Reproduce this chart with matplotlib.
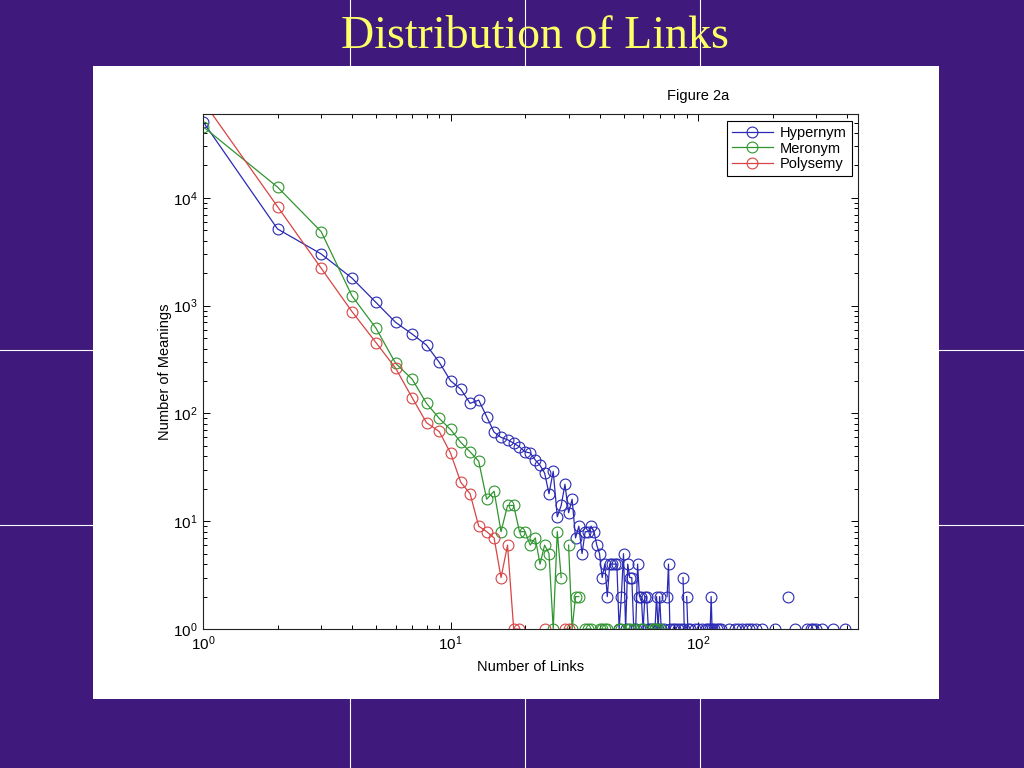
import numpy as np
import matplotlib
matplotlib.use("Agg")
import matplotlib.pyplot as plt
from matplotlib.lines import Line2D
from matplotlib.patches import Rectangle
from matplotlib.ticker import LogLocator, LogFormatterMathtext, NullFormatter

plt.rcParams['font.family'] = ['Liberation Sans', 'DejaVu Sans']
plt.rcParams['mathtext.fontset'] = 'custom'
plt.rcParams['mathtext.rm'] = 'Liberation Sans'
plt.rcParams['mathtext.it'] = 'Liberation Sans:italic'
plt.rcParams['mathtext.bf'] = 'Liberation Sans:bold'

# ---------------- data ----------------
title = "Distribution of Links"
fig_label = "Figure 2a"
x_label = "Number of Links"
y_label = "Number of Meanings"
series_names = ["Hypernym", "Meronym", "Polysemy"]

hyp_links = [1, 2, 3, 4, 5, 6, 7, 8, 9, 10, 11, 12, 13, 14, 15, 16, 17, 18, 19, 20,
             21, 22, 23, 24, 25, 26, 27, 28, 29, 30, 31, 32, 33, 34, 35, 36, 37, 38, 39, 40,
             41, 42, 43, 44, 45, 46, 47, 48, 49, 50, 51, 52, 53, 54, 55, 56, 57, 58, 59, 60,
             61, 62, 63, 64, 65, 67, 68, 69, 70, 71, 73, 75, 76, 77, 79, 81, 83, 85, 87, 88,
             90, 91, 93, 97, 100, 104, 108, 110, 112, 113, 114, 116, 119, 122, 124, 134, 141,
             145, 150, 156, 160, 166, 172, 181, 204, 232, 247, 276, 285, 292, 300, 317, 351, 392]
hyp_counts = [51000, 5150, 3020, 1800, 1070, 700, 545, 430, 299, 201, 168, 124, 133, 93, 67,
              60, 57, 53, 49, 44, 43, 37, 33, 28, 18, 29, 11, 14, 22, 12, 16, 7, 9, 5, 8, 8, 9,
              8, 6, 5, 3, 4, 2, 4, 4, 4, 4, 1, 2, 5, 1, 4, 3, 3, 1, 1, 4, 2, 2, 1,
              2, 2, 1, 1, 1, 1, 2, 1, 2, 1, 1, 2, 4, 1, 1, 1, 1, 1, 3, 1,
              2, 1, 1, 1, 1, 1, 1, 1, 1, 2, 1, 1, 1, 1, 1, 1, 1,
              1, 1, 1, 1, 1, 1, 1, 1, 2, 1, 1, 1, 1, 1, 1, 1, 1]

mer_links = [1, 2, 3, 4, 5, 6, 7, 8, 9, 10, 11, 12, 13, 14, 15, 16, 17, 18, 19, 20,
             21, 22, 23, 24, 25, 26, 27, 28, 30, 31, 32, 33, 35, 36, 37, 40, 41, 42, 43,
             48, 49, 52, 53, 55, 59, 60, 66, 67, 68, 70]
mer_counts = [45900, 12600, 4870, 1230, 618, 292, 208, 124, 90, 71, 54, 44, 36, 16, 19, 8,
              14, 14, 8, 8, 6, 7, 4, 6, 5, 1, 8, 3, 6, 1, 2, 2, 1, 1, 1, 1, 1, 1, 1,
              1, 1, 1, 1, 1, 1, 1, 1, 1, 1, 1]

pol_links = [1, 2, 3, 4, 5, 6, 7, 8, 9, 10, 11, 12, 13, 14, 15, 16, 17, 18, 19, 24, 29, 30]
pol_counts = [79000, 8300, 2230, 880, 454, 263, 140, 82, 68, 43, 23, 18, 9, 8, 7, 3, 6,
              1, 1, 1, 1, 1]

colors = ["#2a2ab4", "#2f962f", "#d94444"]
x_limits = (1, 443)
y_limits = (1, 6.0e4)


def with_gaps(xs, ys):
    """Insert NaN where link counts are missing (zero counts), so lines break."""
    ox, oy = [], []
    for i, (a, b) in enumerate(zip(xs, ys)):
        if i > 0 and a - xs[i - 1] > 1:
            ox.append(np.nan)
            oy.append(np.nan)
        ox.append(a)
        oy.append(b)
    return np.array(ox, float), np.array(oy, float)


# ---------------- figure ----------------
fig = plt.figure(figsize=(10.24, 7.68), dpi=100)
fig.patch.set_facecolor("#40197d")

# slide guide lines
for xp in (350, 525, 700):
    fig.add_artist(Line2D([xp / 1024, xp / 1024], [0, 1], color="white", lw=0.8,
                          transform=fig.transFigure, zorder=0))
for yp in (350, 525):
    fig.add_artist(Line2D([0, 1], [1 - yp / 768, 1 - yp / 768], color="white", lw=0.8,
                          transform=fig.transFigure, zorder=0))

# white figure panel
fig.add_artist(Rectangle((93 / 1024, 1 - 699 / 768), 846 / 1024, 633 / 768,
                         transform=fig.transFigure, facecolor="white",
                         edgecolor="none", zorder=1))

fig.text(535 / 1024, 1 - 37 / 768, title, ha="center", va="center",
         color="#ffff66", fontsize=33, family=["Liberation Serif", "DejaVu Serif"])

fig.text(698 / 1024, 1 - 96 / 768, fig_label, ha="center", va="center",
         color="black", fontsize=10.5, zorder=3)

ax = fig.add_axes([203 / 1024, 1 - 629 / 768, 655 / 1024, 515 / 768], zorder=2)
ax.set_facecolor("white")
ax.set_xscale("log")
ax.set_yscale("log")

for xs, ys, c, name in zip([hyp_links, mer_links, pol_links],
                           [hyp_counts, mer_counts, pol_counts],
                           colors, series_names):
    gx, gy = with_gaps(xs, ys)
    ax.plot(gx, gy, color=c, lw=0.9, marker="o", markersize=7.8,
            markerfacecolor="none", markeredgecolor=c, markeredgewidth=0.8,
            label=name)

ax.set_xlim(*x_limits)
ax.set_ylim(*y_limits)

ax.xaxis.set_major_locator(LogLocator(base=10, numticks=10))
ax.yaxis.set_major_locator(LogLocator(base=10, numticks=10))
ax.xaxis.set_minor_locator(LogLocator(base=10, subs=np.arange(2, 10), numticks=20))
ax.yaxis.set_minor_locator(LogLocator(base=10, subs=np.arange(2, 10), numticks=20))
ax.xaxis.set_major_formatter(LogFormatterMathtext())
ax.yaxis.set_major_formatter(LogFormatterMathtext())
ax.xaxis.set_minor_formatter(NullFormatter())
ax.yaxis.set_minor_formatter(NullFormatter())

ax.tick_params(which="both", direction="in", top=True, right=True,
               labelsize=11, colors="black", width=0.7)
ax.tick_params(which="major", length=5, pad=4)
ax.tick_params(which="minor", length=3)
for s in ax.spines.values():
    s.set_linewidth(0.8)
    s.set_color("#222222")

ax.set_xlabel(x_label, fontsize=10.5, labelpad=5)
ax.set_ylabel(y_label, fontsize=10.5)
ax.yaxis.set_label_coords(-0.047, 0.5)

leg = ax.legend(loc="upper right", bbox_to_anchor=(0.991, 0.987), fontsize=10.5,
                frameon=True, fancybox=False, framealpha=1, edgecolor="black",
                handlelength=2.8, handletextpad=0.5, borderpad=0.35,
                labelspacing=0.12, borderaxespad=0)
leg.get_frame().set_linewidth(0.8)

fig.savefig("out.png", dpi=100, facecolor=fig.get_facecolor())
